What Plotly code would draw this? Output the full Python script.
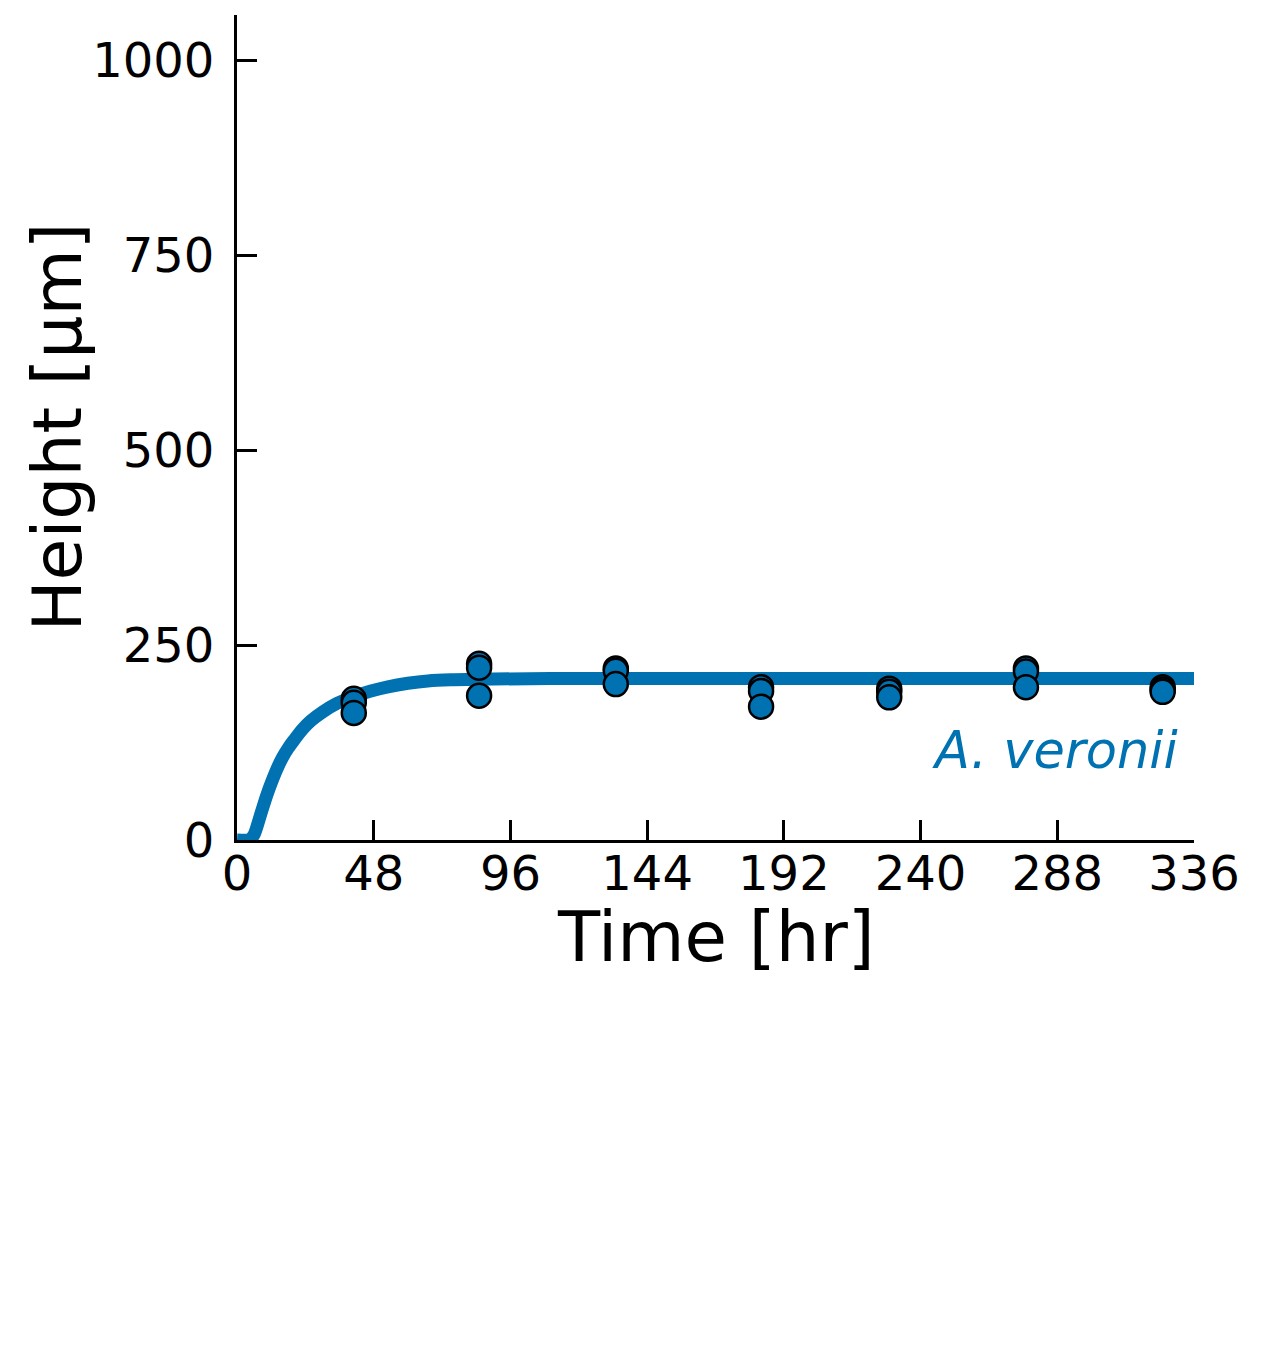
import plotly.graph_objects as go

# fitted growth curve (hr, um)
curve_t = [0, 4, 5, 6, 7, 8, 9, 10.5, 12, 14, 16, 18, 20, 23, 26, 30, 35, 41, 47, 53, 60, 67, 75, 90, 110, 336]
curve_h = [0, 0, 2, 7, 17, 29, 41, 58, 73, 91, 106, 118, 128, 142, 153, 164, 175, 184, 191, 196.5, 201, 204, 205.5, 206.5, 207, 207]

# measured heights (three replicates per time point)
obs_t = [41, 41, 41, 85, 85, 85, 133, 133, 133, 184, 184, 184,
         229, 229, 229, 277, 277, 277, 325, 325, 325]
obs_h = [181, 176, 163, 226, 221, 185, 220, 217, 200, 196, 191, 171,
         194, 190, 183, 220, 216, 196, 196, 193, 190]

x_ticks = [0, 48, 96, 144, 192, 240, 288, 336]
y_ticks = [0, 250, 500, 750, 1000]

blue = "#0072B2"
font = "DejaVu Sans"

fig = go.Figure()

# ---- model curve ----
fig.add_trace(go.Scatter(
    x=curve_t, y=curve_h, mode="lines",
    line=dict(color=blue, width=13, shape="spline", smoothing=0.8),
    showlegend=False,
))

# ---- data points ----
fig.add_trace(go.Scatter(
    x=obs_t, y=obs_h, mode="markers",
    marker=dict(color=blue, size=24, line=dict(color="black", width=2.5)),
    cliponaxis=False, showlegend=False,
))

fig.add_annotation(
    x=331, y=115, text="<i>A. veronii</i>", showarrow=False,
    xanchor="right", yanchor="middle",
    font=dict(family=font, size=51, color=blue),
)

# axis titles placed as annotations so they sit where the reference has them
fig.add_annotation(
    xref="paper", yref="paper", x=0.5, y=-0.118, text="Time [hr]",
    showarrow=False, xanchor="center", yanchor="middle",
    font=dict(family=font, size=69, color="black"),
)
fig.add_annotation(
    xref="paper", yref="paper", x=-0.188, y=0.5, text="Height [µm]",
    showarrow=False, xanchor="center", yanchor="middle", textangle=-90,
    font=dict(family=font, size=68, color="black"),
)

axis_common = dict(
    showline=True, linecolor="black", linewidth=3,
    ticks="inside", ticklen=20, tickwidth=3, tickcolor="black",
    showgrid=False, zeroline=False,
    tickfont=dict(family=font, size=48, color="black"),
)

fig.update_layout(
    width=1270, height=1350, autosize=False,
    margin=dict(l=229, r=84, t=7, b=518),
    plot_bgcolor="white", paper_bgcolor="white",
    font=dict(family=font, color="black"),
    xaxis=dict(range=[0, 336], tickvals=x_ticks, ticklabelstandoff=-11, **axis_common),
    yaxis=dict(range=[0, 1058], tickvals=y_ticks, ticklabelstandoff=10, **axis_common),
)

fig.write_html("out.html")
